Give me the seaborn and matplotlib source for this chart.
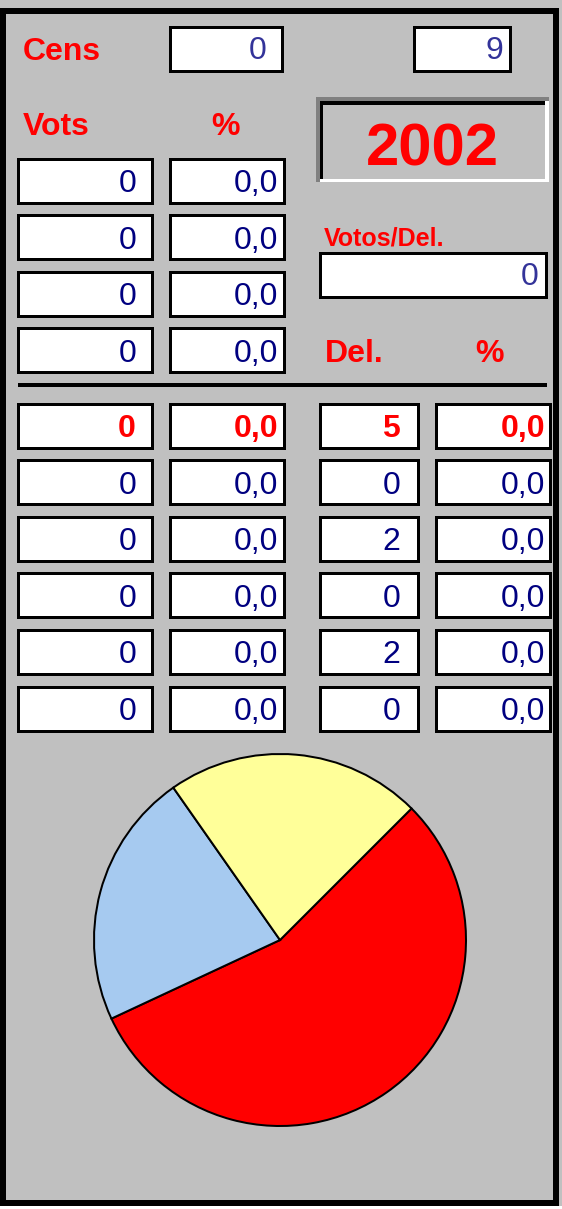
import matplotlib
matplotlib.use("Agg")
import matplotlib.pyplot as plt
from matplotlib.patches import Rectangle
import seaborn as sns

# ---- data read from the sheet ----
cens = 0
seats_total = 9
year = "2002"
votes_top = [0, 0, 0, 0]
pct_top = [0.0, 0.0, 0.0, 0.0]
votes_per_seat = 0
votes = [0, 0, 0, 0, 0, 0]
pct_votes = [0.0, 0.0, 0.0, 0.0, 0.0, 0.0]
seats = [5, 0, 2, 0, 2, 0]
pct_seats = [0.0, 0.0, 0.0, 0.0, 0.0, 0.0]
party_colors = ["#FF0000", "#00A050", "#A6CAF0", "#008000", "#FFFF99", "#FF9900"]

BG = "#C0C0C0"
RED = "#FF0000"
NAVY = "#000080"
BLUE = "#333399"
PX = 0.72  # points per pixel at dpi 100
NUM = 23

sns.set_theme(style="white")
plt.rcParams["font.family"] = ["Liberation Sans", "DejaVu Sans"]


def fmt(v):
    return f"{v:.1f}".replace(".", ",")


def box(ax, x0, y0, x1, y1, lw=3):
    h = lw / 2
    ax.add_patch(Rectangle((x0 + h, y0 + h), x1 - x0 - lw, y1 - y0 - lw,
                           facecolor="white", edgecolor="black", linewidth=lw * PX))


def put(ax, x, y, s, color, size, bold=False, ha="right"):
    ax.text(x, y, s, color=color, fontsize=size, ha=ha, va="baseline",
            fontweight="bold" if bold else "normal")


def fill(ax, x, y, w, h, color):
    ax.add_patch(Rectangle((x, y), w, h, facecolor=color, edgecolor="none"))


fig = plt.figure(figsize=(5.62, 12.09), dpi=100)
fig.patch.set_facecolor(BG)
ax = fig.add_axes([0, 0, 1, 1])
ax.set_xlim(0, 562)
ax.set_ylim(1209, 0)
ax.axis("off")

# outer frame
ax.add_patch(Rectangle((2.5, 10.5), 553.5, 1192, facecolor="none",
                       edgecolor="black", linewidth=6 * PX))
fill(ax, 0, 1206, 562, 3, "white")

# header
put(ax, 23, 60, "Cens", RED, 23, bold=True, ha="left")
box(ax, 168, 25, 283, 72)
put(ax, 266, 59, str(cens), BLUE, NUM)
box(ax, 412, 25, 511, 72)
put(ax, 503, 59, str(seats_total), BLUE, NUM)

put(ax, 23, 135, "Vots", RED, 23, bold=True, ha="left")
put(ax, 225, 135, "%", RED, 23, bold=True, ha="center")

# year box with bevel
fill(ax, 316, 97, 233, 85, BG)
fill(ax, 316, 97, 233, 4, "#808080")
fill(ax, 316, 97, 4, 85, "#808080")
fill(ax, 320, 101, 225, 4, "black")
fill(ax, 320, 101, 3, 78, "black")
fill(ax, 320, 179, 229, 3, "white")
fill(ax, 545, 101, 4, 81, "white")
put(ax, 432, 166, year, RED, 43, bold=True, ha="center")

# upper vote rows
for i, (v, p) in enumerate(zip(votes_top, pct_top)):
    top = 157 + i * 56.6
    box(ax, 16, top, 153, top + 47)
    box(ax, 168, top, 285, top + 47)
    put(ax, 136, top + 35, str(v), NAVY, NUM)
    put(ax, 278, top + 35, fmt(p), NAVY, NUM)

put(ax, 324, 245, "Votos/Del.", RED, 18, bold=True, ha="left")
box(ax, 318, 251, 547, 298)
put(ax, 539, 285, str(votes_per_seat), BLUE, NUM)

put(ax, 325, 362, "Del.", RED, 23, bold=True, ha="left")
put(ax, 490, 362, "%", RED, 23, bold=True, ha="center")

# separator
fill(ax, 18, 383, 529, 4, "black")

# party rows
for i in range(len(seats)):
    top = 402 + i * 56.6
    first = i == 0
    col = RED if first else NAVY
    for x0, x1 in [(16, 153), (168, 285), (318, 419), (434, 551)]:
        box(ax, x0, top, x1, top + 47)
    base = top + 35
    put(ax, 136, base, str(votes[i]), col, NUM, bold=first)
    put(ax, 278, base, fmt(pct_votes[i]), col, NUM, bold=first)
    put(ax, 400, base, str(seats[i]), col, NUM, bold=first)
    put(ax, 545, base, fmt(pct_seats[i]), col, NUM, bold=first)

# pie of seats
cx, cy, r, m = 280, 940, 186, 192
pax = fig.add_axes([(cx - m) / 562, (1209 - cy - m) / 1209, 2 * m / 562, 2 * m / 1209])
vals = [s for s in seats if s > 0]
cols = [c for s, c in zip(seats, party_colors) if s > 0]
pax.pie(vals, colors=cols, startangle=45, counterclock=False, radius=1,
        wedgeprops=dict(edgecolor="black", linewidth=2 * PX))
pax.set_xlim(-m / r, m / r)
pax.set_ylim(-m / r, m / r)
pax.axis("off")

fig.savefig("out.png", dpi=100, facecolor=BG)
